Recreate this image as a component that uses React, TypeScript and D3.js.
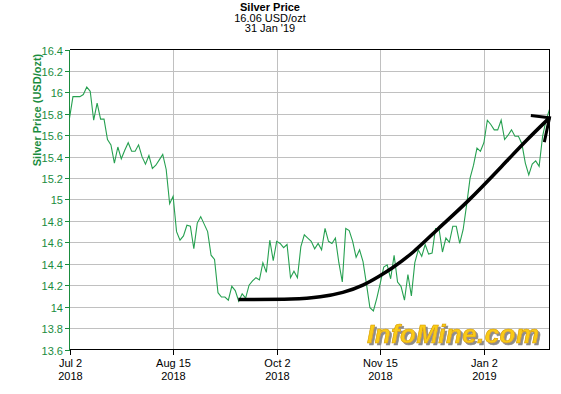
import React, { useEffect, useRef } from 'react';
import * as d3 from 'd3';

// silver price, one value per trading day, Jul 2 2018 .. Jan 31 2019
const prices = [
  15.76, 15.96, 15.96, 15.96, 15.98, 16.05, 16.01, 15.74, 15.9, 15.75,
  15.75, 15.56, 15.51, 15.34, 15.49, 15.38, 15.46, 15.53, 15.45, 15.45,
  15.51, 15.4, 15.33, 15.41, 15.29, 15.32, 15.37, 15.42, 15.28, 14.96,
  15.03, 14.7, 14.62, 14.66, 14.76, 14.75, 14.54, 14.78, 14.84, 14.77,
  14.7, 14.48, 14.44, 14.13, 14.09, 14.09, 14.06, 14.19, 14.15, 14.05,
  14.12, 14.08, 14.2, 14.24, 14.27, 14.25, 14.41, 14.32, 14.62, 14.43,
  14.61, 14.59, 14.55, 14.58, 14.27, 14.33, 14.27, 14.56, 14.67, 14.64,
  14.61, 14.54, 14.59, 14.53, 14.73, 14.61, 14.59, 14.64, 14.41, 14.23,
  14.73, 14.71, 14.61, 14.46, 14.53, 14.42, 14.21, 13.99, 13.96, 14.08,
  14.22, 14.37, 14.39, 14.26, 14.48, 14.23, 14.19, 14.06, 14.3, 14.1,
  14.41, 14.53, 14.47, 14.58, 14.49, 14.5, 14.73, 14.73, 14.51, 14.64,
  14.6, 14.75, 14.75, 14.59, 14.72, 14.95, 15.2, 15.32, 15.48, 15.45,
  15.53, 15.74, 15.7, 15.65, 15.65, 15.74, 15.56, 15.6, 15.65, 15.59,
  15.59, 15.52, 15.34, 15.23, 15.33, 15.36, 15.31, 15.59, 15.74, 15.84,
];

const xTickIndex = [0, 30, 60, 90, 120];
const xTickDay = ['Jul 2', 'Aug 15', 'Oct 2', 'Nov 15', 'Jan 2'];
const xTickYear = ['2018', '2018', '2018', '2018', '2019'];
const yTicks = [13.6, 13.8, 14, 14.2, 14.4, 14.6, 14.8, 15, 15.2, 15.4, 15.6, 15.8, 16, 16.2, 16.4];

// hand drawn trend arrow, in data units [index, price]
const arrowIndex = [48.9, 65.9, 72.6, 79.3, 85.1, 90, 92.9, 99.6, 106.4, 115.1, 125.7, 132.5, 139];
const arrowPrice = [14.067, 14.067, 14.088, 14.129, 14.197, 14.29, 14.347, 14.502, 14.72, 14.969, 15.327, 15.56, 15.763];
const arrowHeadIndex = [133.6, 139, 137.5];
const arrowHeadPrice = [15.784, 15.763, 15.535];

const GREEN = '#1a8c3e';
const LINE = '#26a050';
const FONT = 'Liberation Sans, Arial, sans-serif';

const SilverChart: React.FC = () => {
  const svgRef = useRef<SVGSVGElement>(null);

  useEffect(() => {
    const width = 561;
    const height = 394;
    const left = 69.5, right = 549.5, top = 49.5, bottom = 349.5;

    const svg = d3.select(svgRef.current)
      .attr('width', width)
      .attr('height', height);
    svg.selectAll('*').remove();

    const x = d3.scaleLinear().domain([0, prices.length - 1]).range([left, right]);
    const y = d3.scaleLinear().domain([13.6, 16.4]).range([bottom, top]);

    svg.append('rect').attr('width', width).attr('height', height).attr('fill', '#fff');

    // sombra do logo
    const shadow = svg.append('defs').append('filter').attr('id', 'logoShadow')
      .attr('x', '-5%').attr('y', '-20%').attr('width', '115%').attr('height', '150%');
    shadow.append('feDropShadow')
      .attr('dx', 2).attr('dy', 2).attr('stdDeviation', 0.4)
      .attr('flood-color', '#8c8c8c').attr('flood-opacity', 1);

    // titulo
    const title = svg.append('g').attr('font-family', FONT).attr('font-size', 11)
      .attr('text-anchor', 'middle').attr('fill', '#000');
    title.append('text').attr('x', 270).attr('y', 11).attr('font-weight', 'bold').text('Silver Price');
    title.append('text').attr('x', 270).attr('y', 21.5).text('16.06 USD/ozt');
    title.append('text').attr('x', 270).attr('y', 32).text("31 Jan '19");

    // grid
    const grid = svg.append('g').attr('stroke', '#c0c0c0').attr('shape-rendering', 'crispEdges');
    grid.selectAll('line.h')
      .data(yTicks.slice(1, -1))
      .enter().append('line')
      .attr('x1', left).attr('x2', right)
      .attr('y1', d => Math.round(y(d)) + 0.5).attr('y2', d => Math.round(y(d)) + 0.5);
    grid.selectAll('line.v')
      .data(xTickIndex.slice(1))
      .enter().append('line')
      .attr('y1', top).attr('y2', bottom)
      .attr('x1', d => Math.round(x(d)) + 0.5).attr('x2', d => Math.round(x(d)) + 0.5);

    // logo
    svg.append('text')
      .attr('x', 367).attr('y', 342.5)
      .attr('font-family', FONT).attr('font-size', 26)
      .attr('font-weight', 'bold').attr('font-style', 'italic')
      .attr('textLength', 172)
      .attr('fill', '#f9cb16')
      .attr('stroke', '#d69a00').attr('stroke-width', 0.6)
      .attr('filter', 'url(#logoShadow)')
      .text('InfoMine.com');

    // serie
    const line = d3.line<number>()
      .x((_, i) => x(i))
      .y(d => y(d));
    svg.append('path')
      .datum(prices)
      .attr('d', line)
      .attr('fill', 'none')
      .attr('stroke', LINE)
      .attr('stroke-width', 1.1);

    // frame
    const frame = svg.append('g').attr('stroke', '#000').attr('shape-rendering', 'crispEdges').attr('fill', 'none');
    frame.append('line').attr('x1', left).attr('x2', right).attr('y1', top).attr('y2', top);
    frame.append('line').attr('x1', right).attr('x2', right).attr('y1', top).attr('y2', bottom);
    frame.append('line').attr('x1', left).attr('x2', right).attr('y1', bottom).attr('y2', bottom);

    // eixo x
    const xAxis = svg.append('g').attr('font-family', FONT).attr('font-size', 11).attr('text-anchor', 'middle');
    xTickIndex.forEach((t, i) => {
      const px = Math.round(x(t)) + 0.5;
      xAxis.append('line').attr('x1', px).attr('x2', px).attr('y1', bottom).attr('y2', bottom + 5)
        .attr('stroke', '#000').attr('shape-rendering', 'crispEdges');
      xAxis.append('text').attr('x', px).attr('y', 367).text(xTickDay[i]);
      xAxis.append('text').attr('x', px).attr('y', 379.5).text(xTickYear[i]);
    });

    // eixo y
    const yAxis = svg.append('g').attr('font-family', FONT).attr('font-size', 11)
      .attr('text-anchor', 'end').attr('fill', GREEN);
    yAxis.append('line').attr('x1', left).attr('x2', left).attr('y1', top).attr('y2', bottom + 1)
      .attr('stroke', GREEN).attr('shape-rendering', 'crispEdges');
    yTicks.forEach(t => {
      const py = Math.round(y(t)) + 0.5;
      yAxis.append('line').attr('x1', left - 5).attr('x2', left).attr('y1', py).attr('y2', py)
        .attr('stroke', GREEN).attr('shape-rendering', 'crispEdges');
      yAxis.append('text').attr('x', 63).attr('y', py + 4).text(d3.format('~g')(t));
    });
    yAxis.append('text')
      .attr('transform', 'translate(41,110) rotate(-90)')
      .attr('text-anchor', 'middle')
      .attr('font-weight', 'bold')
      .text('Silver Price (USD/ozt)');

    // seta
    const arrow = d3.line<number>()
      .x(d => x(d))
      .y((_, i) => y(arrowPrice[i]))
      .curve(d3.curveBasis);
    svg.append('path')
      .datum(arrowIndex)
      .attr('d', arrow)
      .attr('fill', 'none')
      .attr('stroke', '#000')
      .attr('stroke-width', 3.5);
    const head = d3.line<number>()
      .x(d => x(d))
      .y((_, i) => y(arrowHeadPrice[i]));
    svg.append('path')
      .datum(arrowHeadIndex)
      .attr('d', head)
      .attr('fill', 'none')
      .attr('stroke', '#000')
      .attr('stroke-width', 3)
      .attr('stroke-linejoin', 'miter');
  }, []);

  return (
    <svg ref={svgRef} style={{ position: 'absolute', left: 0, top: 0, display: 'block' }}></svg>
  );
};

export default function App() {
  return <SilverChart />;
}
